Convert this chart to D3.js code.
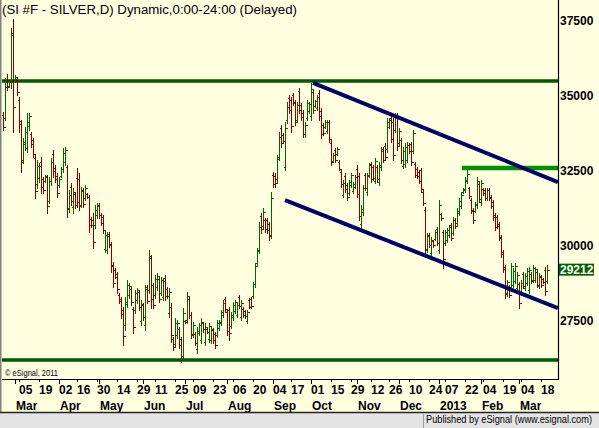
<!DOCTYPE html>
<html>
<head>
<meta charset="utf-8">
<script src="https://cdn.jsdelivr.net/npm/d3@7"></script>
<style>
  body { margin: 0; background: #fff; }
  svg { display: block; }
</style>
</head>
<body>
<div id="chart"></div>
<script>
// daily bars, SI #F silver, 22 Feb 2012 .. 21 Mar 2013 (price x1000)
const firstDate = '2012-02-22'
const holidays = ['2012-04-06', '2012-05-28', '2012-07-04', '2012-09-03', '2012-11-22',
  '2012-12-25', '2013-01-01', '2013-01-21', '2013-02-18']

const opens = [
  34370, 34270, 35530, 35330, 35470, 37100, 35500, 35530, 34870, 34070,
  32870, 33400, 33270, 34000, 33730, 33530, 32930, 32070, 32270, 32800,
  32230, 32170, 32300, 31500, 32170, 33070, 32600, 32330, 32030, 32330,
  32570, 32800, 32630, 31270, 31970, 31300, 31730, 32270, 32230, 31370,
  31870, 31600, 31730, 31630, 30900, 30870, 30700, 31030, 31370, 31030,
  30970, 29900, 29870, 30400, 30030, 29370, 29200, 29070, 28370, 28230,
  27870, 27370, 28070, 28370, 28570, 27900, 27870, 28200, 28470, 27500,
  28030, 27370, 28630, 28530, 29600, 28700, 28370, 28630, 28900, 28430,
  28300, 28930, 28570, 27770, 27970, 26900, 26730, 27030, 27230, 26900,
  26330, 27500, 27530, 28230, 27700, 27030, 27070, 26570, 27100, 26870,
  27430, 26800, 27230, 26900, 26870, 27200, 27070, 27030, 27270, 27430,
  27700, 28230, 27800, 27870, 27330, 27630, 27830, 27700, 28300, 27630,
  27900, 27830, 27500, 28200, 28230, 28330, 28730, 29430, 29870, 31000,
  30670, 30870, 30870, 30730, 30370, 32370, 32330, 32230, 32970, 33930,
  33700, 32630, 34200, 34930, 34870, 35030, 34800, 34200, 35170, 34700,
  34430, 33730, 34270, 34500, 34330, 35130, 34670, 34600, 35100, 34500,
  34030, 33970, 33830, 34130, 33430, 32830, 33200, 33070, 32800, 32470,
  31700, 32330, 32030, 31770, 32030, 31830, 31970, 32570, 32330, 30730,
  31130, 32370, 31800, 32370, 32730, 32630, 32170, 32630, 32130, 32630,
  33230, 33330, 33230, 33970, 34270, 34130, 33870, 34330, 33430, 33530,
  32670, 32730, 32870, 33370, 33400, 33170, 32730, 32570, 32470, 32530,
  31800, 31200, 29870, 30370, 29770, 30170, 30230, 30570, 29870, 31070,
  30470, 30100, 30200, 30370, 30700, 30430, 30870, 30770, 31100, 31330,
  31800, 31870, 32170, 31930, 31530, 31200, 31170, 31370, 32070, 31470,
  31900, 31870, 31600, 31870, 31630, 31470, 31030, 30970, 30730, 30300,
  29800, 29300, 28400, 28630, 28630, 28700, 28830, 28600, 28730, 28430,
  29070, 28600, 28770, 28530, 29070, 28870, 28870, 29130, 28670, 28970,
  28900, 29200, 28830
]
const highs = [
  34470, 35600, 35730, 35530, 37270, 37570, 35700, 35600, 34970, 34200,
  33600, 33970, 34430, 34430, 33800, 33600, 33030, 32870, 32770, 32970,
  32300, 32370, 32370, 32300, 32930, 33200, 32700, 32430, 32300, 32630,
  33270, 33300, 32700, 31870, 32100, 31930, 31800, 32600, 32430, 31970,
  31930, 32030, 31770, 31700, 30970, 31100, 31370, 31430, 31430, 31100,
  31030, 30530, 30470, 30470, 30130, 29470, 29270, 29130, 28430, 28300,
  27970, 28300, 28870, 28770, 28630, 27970, 28530, 28600, 28530, 28200,
  28100, 28700, 28700, 29870, 29700, 28770, 29030, 29100, 28970, 28970,
  28930, 29030, 28630, 28600, 28100, 26970, 27600, 27530, 27300, 26970,
  27930, 27530, 28470, 28300, 27800, 27470, 27130, 27300, 27430, 27600,
  27470, 27430, 27270, 27430, 27300, 27270, 27130, 27530, 27530, 27870,
  28200, 28300, 27870, 27970, 27800, 28130, 28200, 28130, 28370, 28200,
  27970, 27870, 27870, 28270, 28300, 28800, 29430, 29930, 30800, 31100,
  31270, 30930, 30930, 30800, 31800, 32470, 32430, 33030, 33800, 34030,
  33770, 34130, 34800, 35030, 34970, 35100, 34870, 34800, 35270, 34770,
  34530, 34130, 34870, 34800, 35430, 35200, 34870, 35030, 35200, 34600,
  34100, 34200, 34200, 34200, 33530, 33100, 33270, 33300, 32870, 32530,
  32200, 32430, 32100, 32200, 32430, 32130, 32370, 32700, 32430, 31370,
  32030, 32430, 32430, 32770, 32800, 32700, 32930, 32700, 32800, 33300,
  33300, 33430, 34270, 34270, 34370, 34270, 34430, 34430, 33930, 33600,
  33300, 33430, 33470, 33430, 33470, 33870, 32800, 32630, 32530, 32600,
  31870, 31300, 30430, 30430, 30300, 30200, 30530, 30630, 31530, 31100,
  30530, 30530, 30600, 30700, 30770, 30970, 30930, 31270, 31600, 31800,
  31930, 32300, 32570, 31970, 31600, 31270, 31470, 32300, 32130, 32200,
  31930, 31930, 31930, 31930, 31700, 31530, 31100, 31030, 30800, 30370,
  29870, 29370, 28870, 28700, 29430, 29270, 29430, 29130, 28800, 28870,
  29130, 29100, 29270, 29300, 29130, 29370, 29300, 29200, 29100, 29030,
  28930, 29300, 29370
]
const lows = [
  33870, 34200, 35200, 35300, 35270, 33800, 35470, 35030, 33800, 32470,
  32770, 33200, 33130, 33870, 33300, 32970, 31600, 31930, 32130, 31770,
  31770, 32130, 31100, 31430, 32030, 32300, 32130, 31630, 31970, 32300,
  32470, 32700, 30970, 31130, 31370, 31100, 31270, 31300, 31200, 31300,
  31300, 31530, 31600, 30470, 30630, 29930, 30600, 30930, 30930, 30700,
  30430, 29800, 29770, 29970, 29130, 28630, 28930, 28430, 28100, 27600,
  26700, 27200, 27970, 28270, 28030, 27100, 27770, 28100, 27870, 27370,
  27530, 27200, 28100, 28430, 27930, 27930, 28270, 28530, 28130, 28370,
  28200, 28200, 28270, 27630, 26800, 26530, 26630, 26930, 26600, 26130,
  26200, 27430, 27430, 27600, 26930, 26970, 26700, 26430, 27030, 26770,
  27130, 26700, 27100, 26800, 26770, 26770, 26600, 26970, 27200, 27370,
  27630, 27800, 27030, 26870, 27270, 27530, 27770, 27630, 27930, 27530,
  27630, 27600, 27430, 27930, 27930, 28270, 28630, 29370, 29770, 30430,
  30600, 30470, 30430, 30200, 30270, 31970, 31970, 32130, 32870, 33300,
  33430, 32530, 34100, 34430, 33800, 34700, 34030, 34130, 34430, 34200,
  33630, 33630, 34200, 34430, 34200, 34430, 34630, 34530, 34200, 33600,
  33700, 33930, 33770, 33470, 32700, 32800, 32800, 33030, 32530, 31970,
  31630, 31800, 31530, 31700, 31970, 31770, 31930, 31630, 30870, 30630,
  31030, 31870, 31700, 32300, 32130, 32200, 32100, 32130, 32030, 32530,
  32800, 32870, 33130, 33930, 33470, 32870, 33800, 33200, 33370, 32770,
  32600, 32630, 32800, 33100, 32700, 33100, 32300, 32270, 32100, 31800,
  31370, 29630, 29800, 29970, 29700, 29970, 30200, 30030, 29770, 30870,
  29270, 30030, 30130, 30300, 30200, 30370, 30600, 30700, 31030, 31270,
  31770, 31800, 32100, 31600, 31100, 30770, 31130, 31270, 31470, 31370,
  31700, 31530, 31530, 31530, 31270, 30870, 30530, 30600, 30200, 29630,
  29130, 28270, 28330, 28300, 28530, 28630, 28770, 28530, 27930, 28370,
  28600, 28530, 28700, 28430, 28770, 28800, 28800, 28630, 28600, 28630,
  28770, 28370, 28770
]
const closes = [
  33980, 35300, 35300, 35470, 37030, 34630, 35650, 35130, 34170, 32800,
  33470, 33800, 34130, 34330, 33400, 33070, 31830, 32670, 32670, 31970,
  31870, 32330, 31330, 32170, 32800, 32500, 32230, 31770, 32230, 32570,
  33100, 33200, 31230, 31700, 31500, 31800, 31370, 31470, 31330, 31830,
  31400, 31930, 31630, 30700, 30700, 30130, 31200, 31330, 31030, 30770,
  30530, 30370, 30330, 30070, 29330, 28770, 28970, 28570, 28170, 27730,
  27000, 28130, 28700, 28670, 28130, 27300, 28430, 28530, 27970, 28070,
  27630, 28570, 28170, 29670, 28230, 28030, 28900, 29000, 28230, 28870,
  28830, 28330, 28330, 28470, 27030, 26630, 27430, 27430, 26700, 26330,
  27770, 27470, 28330, 27700, 27070, 27370, 26770, 27170, 27370, 27470,
  27230, 27300, 27130, 27330, 27230, 26870, 26700, 27430, 27470, 27800,
  28100, 27900, 27170, 27100, 27700, 28030, 28130, 28030, 28000, 28100,
  27700, 27670, 27800, 27970, 28000, 28730, 29330, 29830, 30630, 30570,
  31130, 30570, 30530, 30330, 31600, 32070, 32100, 32900, 33630, 33430,
  33500, 33930, 34630, 34530, 34000, 34770, 34130, 34700, 34530, 34300,
  33730, 34030, 34770, 34730, 35230, 34530, 34830, 34970, 34330, 33730,
  33770, 34130, 34130, 33570, 32800, 33030, 32870, 33230, 32570, 32070,
  32100, 31900, 31630, 32130, 32370, 32070, 32300, 31730, 31000, 31230,
  31930, 31930, 32330, 32700, 32230, 32270, 32830, 32230, 32700, 33170,
  32870, 32970, 34130, 34200, 33570, 33030, 34330, 33330, 33830, 32870,
  33170, 33300, 33370, 33170, 32800, 33770, 32370, 32330, 32170, 31900,
  31430, 29900, 30330, 30030, 30200, 30030, 30470, 30100, 31370, 30930,
  29570, 30470, 30530, 30630, 30270, 30870, 30670, 31170, 31500, 31700,
  31900, 32200, 32400, 31670, 31170, 30870, 31400, 32170, 31570, 32100,
  31770, 31600, 31870, 31600, 31330, 30970, 30630, 30670, 30270, 29730,
  29230, 28430, 28800, 28370, 29330, 29170, 29330, 29030, 28100, 28770,
  28670, 29000, 29170, 29200, 28830, 29270, 29230, 28700, 29000, 28700,
  28800, 28500, 29212
]

const priceTicks = [27500, 30000, 32500, 35000, 37500]
const dayTickDates = ['2012-03-05', '2012-03-19', '2012-04-02', '2012-04-16', '2012-04-30',
  '2012-05-14', '2012-05-29', '2012-06-11', '2012-06-25', '2012-07-09', '2012-07-23',
  '2012-08-06', '2012-08-20', '2012-09-04', '2012-09-17', '2012-10-01', '2012-10-15',
  '2012-10-29', '2012-11-12', '2012-11-26', '2012-12-10', '2012-12-24', '2013-01-07',
  '2013-01-22', '2013-02-04', '2013-02-19', '2013-03-04', '2013-03-18']
const dayTickLabels = ['05', '19', '02', '16', '30', '14', '29', '11', '25', '09', '23', '06', '20',
  '04', '17', '01', '15', '29', '12', '26', '10', '24', '07', '22', '04', '19', '04', '18']
const monthStarts = ['2012-03-01', '2012-04-02', '2012-05-01', '2012-06-01', '2012-07-02',
  '2012-08-01', '2012-09-04', '2012-10-01', '2012-11-01', '2012-12-03', '2013-01-02',
  '2013-02-01', '2013-03-01']
const monthLabels = ['Mar', 'Apr', 'May', 'Jun', 'Jul', 'Aug', 'Sep', 'Oct', 'Nov', 'Dec', '2013', 'Feb', 'Mar']

// drawn lines: [bar index, price]
const levelLines = [35500, 26200]
const resistLine = [[229.5, 32600], [277.5, 32600]]
const upperChannel = [[155, 35440], [277.5, 32130]]
const lowerChannel = [[141, 31530], [277.5, 27930]]

const W = 599, H = 428
const plotR = 558, plotB = 379

// trading calendar for the bars
const parse = d3.utcParse('%Y-%m-%d')
const fmt = d3.utcFormat('%Y-%m-%d')
const days = []
let d = parse(firstDate)
while (days.length < closes.length) {
  const wd = d.getUTCDay()
  const s = fmt(d)
  if (wd > 0 && wd < 6 && !holidays.includes(s)) days.push(s)
  d = d3.utcDay.offset(d, 1)
}
const idx = s => days.indexOf(s)

const x = d3.scaleLinear().domain([0, closes.length - 1]).range([3, 547])
const y = d3.scaleLinear().domain([27500, 37500]).range([321, 21])

const svg = d3.select('#chart').append('svg')
  .attr('width', W)
  .attr('height', H)
  .style('font-family', '"Liberation Sans", Arial, sans-serif')

svg.append('rect').attr('width', W).attr('height', H).attr('fill', '#ffffe0')

svg.append('defs').append('clipPath').attr('id', 'plot')
  .append('rect').attr('x', 2).attr('y', 0).attr('width', plotR - 2).attr('height', plotB)

const plot = svg.append('g').attr('clip-path', 'url(#plot)')

// horizontal support / resistance
plot.selectAll('.level')
  .data(levelLines)
  .join('line')
  .attr('class', 'level')
  .attr('x1', 2).attr('x2', plotR)
  .attr('y1', p => y(p)).attr('y2', p => y(p))
  .attr('stroke', '#005800')
  .attr('stroke-width', 3.3)

// ohlc bars
const bars = d3.range(closes.length)
plot.selectAll('.bar')
  .data(bars)
  .join('path')
  .attr('class', 'bar')
  .attr('fill', 'none')
  .attr('shape-rendering', 'crispEdges')
  .attr('stroke', i => closes[i] >= opens[i] ? '#006400' : '#8a0000')
  .attr('stroke-width', 1)
  .attr('d', i => {
    const cx = x(i) + 0.5
    const yo = Math.round(y(opens[i])) + 0.5
    const yc = Math.round(y(closes[i])) + 0.5
    return 'M' + cx + ',' + Math.round(y(highs[i])) + 'V' + (Math.round(y(lows[i])) + 1) +
      'M' + (cx - 2) + ',' + yo + 'H' + cx +
      'M' + cx + ',' + yc + 'H' + (cx + 2)
  })

// trend lines
const line = d3.line().x(p => x(p[0])).y(p => y(p[1]))
plot.append('path')
  .attr('d', line(resistLine))
  .attr('stroke', '#009000')
  .attr('stroke-width', 4.6)
  .attr('fill', 'none')
plot.selectAll('.channel')
  .data([upperChannel, lowerChannel])
  .join('path')
  .attr('class', 'channel')
  .attr('d', line)
  .attr('stroke', '#00006a')
  .attr('stroke-width', 4)
  .attr('fill', 'none')

// title and credit
svg.append('text')
  .attr('x', 2).attr('y', 13.5)
  .attr('font-size', 12.5)
  .attr('textLength', 295)
  .attr('lengthAdjust', 'spacingAndGlyphs')
  .text('(SI #F - SILVER,D) Dynamic,0:00-24:00 (Delayed)')
svg.append('text')
  .attr('x', 5).attr('y', 376)
  .attr('font-size', 8.5)
  .attr('textLength', 53)
  .attr('lengthAdjust', 'spacingAndGlyphs')
  .text('\u00a9 eSignal, 2011')

// right price axis
svg.append('line')
  .attr('x1', plotR + 0.5).attr('x2', plotR + 0.5)
  .attr('y1', 0).attr('y2', plotB + 1)
  .attr('stroke', '#000').attr('stroke-width', 1.2)
svg.selectAll('.ptick')
  .data(priceTicks)
  .join('text')
  .attr('class', 'ptick')
  .attr('x', 560)
  .attr('y', p => y(p))
  .attr('dy', '0.36em')
  .attr('font-size', 12)
  .attr('font-weight', 'bold')
  .text(p => p)

const last = closes[closes.length - 1]
svg.append('rect')
  .attr('x', 559).attr('y', y(last) - 6)
  .attr('width', 35).attr('height', 12)
  .attr('fill', '#006000')
svg.append('text')
  .attr('x', 560).attr('y', y(last))
  .attr('dy', '0.36em')
  .attr('font-size', 12)
  .attr('font-weight', 'bold')
  .attr('fill', '#fff')
  .text(last)

// bottom date axis
svg.append('line')
  .attr('x1', 2).attr('x2', plotR + 1)
  .attr('y1', plotB + 0.5).attr('y2', plotB + 0.5)
  .attr('stroke', '#000').attr('stroke-width', 1.2)
svg.selectAll('.mtick')
  .data(monthStarts)
  .join('line')
  .attr('class', 'mtick')
  .attr('x1', s => x(idx(s)) + 0.5).attr('x2', s => x(idx(s)) + 0.5)
  .attr('y1', plotB).attr('y2', plotB + 5)
  .attr('stroke', '#000')
svg.selectAll('.dtick')
  .data(dayTickDates)
  .join('line')
  .attr('class', 'dtick')
  .attr('x1', s => x(idx(s)) + 0.5).attr('x2', s => x(idx(s)) + 0.5)
  .attr('y1', plotB).attr('y2', plotB + 3)
  .attr('stroke', '#000')
svg.selectAll('.dlabel')
  .data(dayTickDates)
  .join('text')
  .attr('class', 'dlabel')
  .attr('x', s => x(idx(s)))
  .attr('y', 393.5)
  .attr('font-size', 12)
  .attr('font-weight', 'bold')
  .text((s, i) => dayTickLabels[i])
svg.selectAll('.mlabel')
  .data(monthStarts)
  .join('text')
  .attr('class', 'mlabel')
  .attr('x', s => x(idx(s)) + 1)
  .attr('y', 409.5)
  .attr('font-size', 12)
  .attr('font-weight', 'bold')
  .text((s, i) => monthLabels[i])

// frame and status bar
svg.append('line')
  .attr('x1', 0.75).attr('x2', 0.75).attr('y1', 0).attr('y2', 412)
  .attr('stroke', '#808080').attr('stroke-width', 1.5)
svg.append('rect')
  .attr('x', 0).attr('y', 413).attr('width', W).attr('height', H - 413)
  .attr('fill', '#e4e4e4')
svg.append('line')
  .attr('x1', 0).attr('x2', W).attr('y1', 412.5).attr('y2', 412.5)
  .attr('stroke', '#222').attr('stroke-width', 1.5)
svg.append('line')
  .attr('x1', 423.5).attr('x2', 423.5).attr('y1', 414).attr('y2', H)
  .attr('stroke', '#a0a0a0')
svg.append('text')
  .attr('x', 592).attr('y', 423)
  .attr('text-anchor', 'end')
  .attr('font-size', 10)
  .attr('textLength', 166)
  .attr('lengthAdjust', 'spacingAndGlyphs')
  .text('Published by eSignal (www.esignal.com)')
</script>
</body>
</html>
